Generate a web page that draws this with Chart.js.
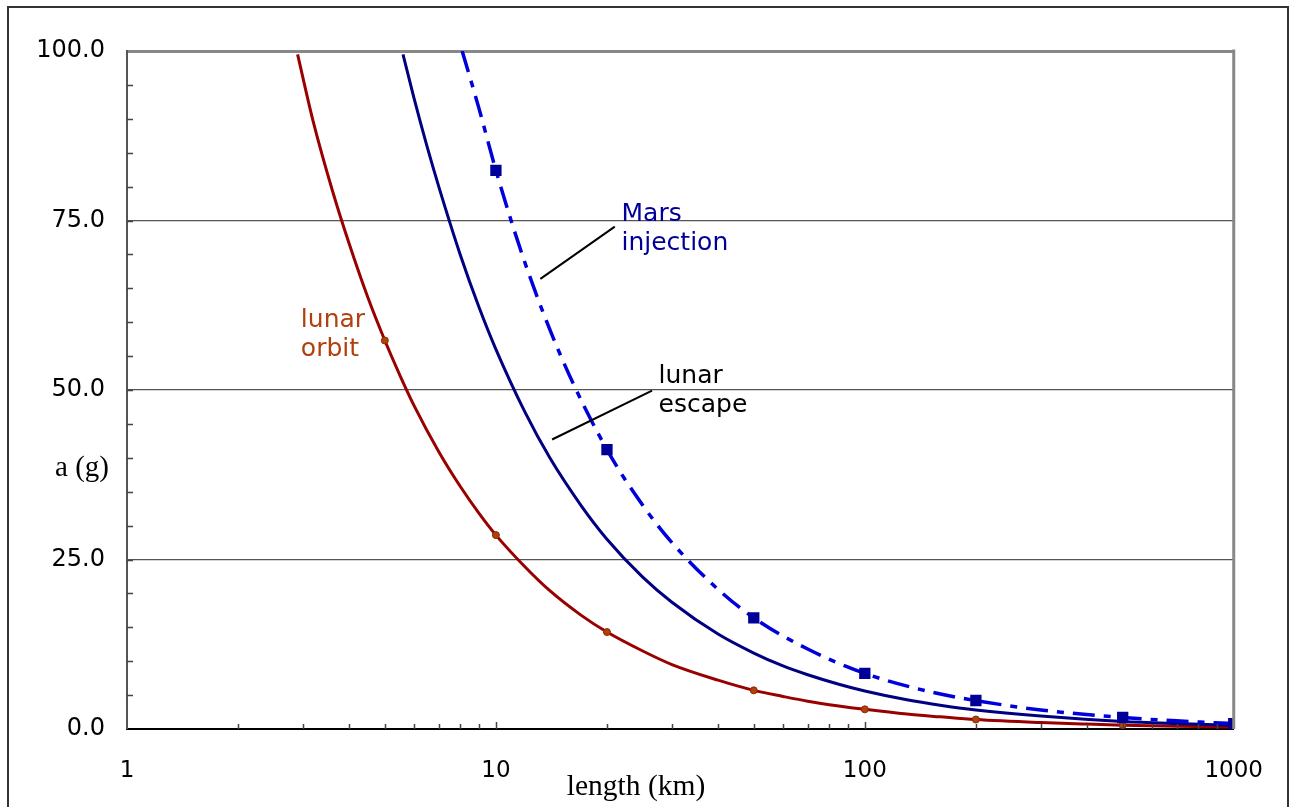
<!DOCTYPE html>
<html>
<head>
<meta charset="utf-8">
<title>a (g) vs length (km)</title>
<script src="https://cdn.jsdelivr.net/npm/chart.js@4.4.1/dist/chart.umd.min.js"></script>
<style>
  html, body { margin: 0; padding: 0; background: #fff; }
  canvas { display: block; }
</style>
</head>
<body>
<canvas id="plot" width="1291" height="807"></canvas>
<script>
// valores
let orbitLen = [2.9, 3.2, 3.6, 4, 4.5, 5, 5.5, 6, 7, 8, 9, 10, 12, 14, 17, 20, 25, 30, 40, 50, 60, 70, 85, 100, 130, 160, 200, 300, 400, 500, 700, 1000]
let orbitAcc = [99.5, 89.5, 79.5, 71.6, 63.6, 57.3, 52.1, 47.7, 40.9, 35.8, 31.8, 28.6, 23.9, 20.4, 16.8, 14.3, 11.5, 9.5, 7.2, 5.7, 4.8, 4.1, 3.4, 2.9, 2.2, 1.8, 1.4, 0.95, 0.72, 0.57, 0.41, 0.29]

let escapeLen = [5.6, 6, 6.5, 7, 8, 9, 10, 12, 14, 17, 20, 25, 30, 40, 50, 60, 70, 85, 100, 130, 160, 200, 300, 500, 700, 1000]
let escapeAcc = [99.5, 93, 86, 80, 70, 62.2, 56, 46.7, 40, 33, 28, 22.4, 18.7, 14, 11.2, 9.3, 8, 6.6, 5.6, 4.3, 3.5, 2.8, 1.9, 1.1, 0.8, 0.56]

let marsLen = [8.1, 9, 10, 12, 15, 20, 25, 30, 40, 50, 70, 100, 150, 200, 300, 500, 700, 1000]
let marsAcc = [100, 91.5, 82.4, 68.7, 55, 41.2, 33, 27.5, 20.6, 16.4, 11.8, 8.2, 5.5, 4.2, 2.8, 1.7, 1.2, 0.8]

// puntos marcados
let orbitMarkLen = [5, 10, 20, 50, 100, 200, 500, 1000]
let orbitMarkAcc = [57.3, 28.6, 14.3, 5.7, 2.9, 1.4, 0.57, 0.29]
let marsMarkLen = [10, 20, 50, 100, 200, 500, 1000]
let marsMarkAcc = [82.4, 41.2, 16.4, 8.2, 4.2, 1.7, 0.8]

// etiquetas de los ejes
let xTickLabels = [1, 10, 100, 1000]
let yTickLabels = [0, 25, 50, 75, 100]

// rotulos sobre la grafica (coordenadas en unidades de datos)
let notes = [
  {lines: ['Mars', 'injection'], x: 21.9, y: 75.0, color: '#000099'},
  {lines: ['lunar', 'escape'], x: 27.6, y: 51.0, color: '#000000'},
  {lines: ['lunar', 'orbit'], x: 2.96, y: 59.3, color: '#b0400d'}
]
let leaders = [
  {x1: 13.2, y1: 66.4, x2: 21.0, y2: 74.1},
  {x1: 14.2, y1: 42.7, x2: 26.5, y2: 49.9}
]

let toPoints = (xs, ys) => xs.map((x, i) => ({x: x, y: ys[i]}))

let extras = {
  id: 'extras',
  afterDraw: (chart) => {
    let ctx = chart.ctx
    let area = chart.chartArea
    let xs = chart.scales.x
    let ys = chart.scales.y
    ctx.save()

    // marco exterior
    ctx.strokeStyle = '#333'
    ctx.lineWidth = 2
    ctx.strokeRect(8, 7, 1280, 830)

    // borde derecho del area
    ctx.strokeStyle = '#888'
    ctx.lineWidth = 3
    ctx.beginPath()
    ctx.moveTo(area.right, area.top - 1.5)
    ctx.lineTo(area.right, area.bottom)
    ctx.stroke()

    // marcas menores hacia adentro
    ctx.strokeStyle = '#444'
    ctx.lineWidth = 1.5
    ctx.beginPath()
    for (let v = 5; v < 100; v += 5) {
      let py = Math.round(ys.getPixelForValue(v)) + 0.5
      ctx.moveTo(area.left, py)
      ctx.lineTo(area.left + 6, py)
    }
    for (let d = 1; d < 1000; d *= 10) {
      for (let m = 2; m <= 10; m++) {
        let px = Math.round(xs.getPixelForValue(d * m)) + 0.5
        if (d * m >= 1000) continue
        ctx.moveTo(px, area.bottom)
        ctx.lineTo(px, area.bottom - (m === 10 ? 7 : 5))
      }
    }
    ctx.stroke()

    // lineas guia
    ctx.strokeStyle = '#000'
    ctx.lineWidth = 2
    leaders.forEach(l => {
      ctx.beginPath()
      ctx.moveTo(xs.getPixelForValue(l.x1), ys.getPixelForValue(l.y1))
      ctx.lineTo(xs.getPixelForValue(l.x2), ys.getPixelForValue(l.y2))
      ctx.stroke()
    })

    // rotulos
    ctx.font = '25px "DejaVu Sans"'
    ctx.textAlign = 'left'
    ctx.textBaseline = 'alphabetic'
    notes.forEach(n => {
      ctx.fillStyle = n.color
      let px = xs.getPixelForValue(n.x)
      let py = ys.getPixelForValue(n.y)
      n.lines.forEach((t, i) => ctx.fillText(t, px, py + i * 29))
    })

    // titulos de ejes
    ctx.fillStyle = '#000'
    ctx.font = '29.5px "Liberation Serif"'
    ctx.textAlign = 'center'
    ctx.fillText('length (km)', 636, 795)
    ctx.font = '29px "Liberation Serif"'
    ctx.textBaseline = 'middle'
    ctx.fillText('a (g)', 82, ys.getPixelForValue(38.5))

    ctx.restore()
  }
}

let config = {
  type: 'line',
  data: {
    datasets: [
      {
        label: 'Mars injection points',
        data: toPoints(marsMarkLen, marsMarkAcc),
        showLine: false,
        pointStyle: 'rect',
        pointRadius: 8,
        backgroundColor: '#000099',
        borderColor: '#000099',
        borderWidth: 0
      },
      {
        label: 'lunar orbit points',
        data: toPoints(orbitMarkLen, orbitMarkAcc),
        showLine: false,
        pointRadius: 3.5,
        backgroundColor: '#b0400d',
        borderColor: '#8a2a05',
        borderWidth: 1
      },
      {
        label: 'Mars injection',
        data: toPoints(marsLen, marsAcc),
        borderColor: '#0000dd',
        borderWidth: 3.5,
        borderDash: [22, 9, 7, 9],
        pointRadius: 0,
        cubicInterpolationMode: 'monotone'
      },
      {
        label: 'lunar escape',
        data: toPoints(escapeLen, escapeAcc),
        borderColor: '#000080',
        borderWidth: 3,
        pointRadius: 0,
        cubicInterpolationMode: 'monotone'
      },
      {
        label: 'lunar orbit',
        data: toPoints(orbitLen, orbitAcc),
        borderColor: '#990000',
        borderWidth: 3,
        pointRadius: 0,
        cubicInterpolationMode: 'monotone'
      }
    ]
  },
  options: {
    responsive: false,
    animation: false,
    layout: {padding: {left: 0, top: 51, right: 52, bottom: 0}},
    plugins: {legend: {display: false}, tooltip: {enabled: false}},
    scales: {
      x: {
        type: 'logarithmic',
        min: 1,
        max: 1000,
        afterFit: (scale) => { scale.height = 78 },
        border: {display: true, color: '#000', width: 2},
        grid: {display: false, drawTicks: false},
        ticks: {
          autoSkip: false,
          maxRotation: 0,
          padding: 28,
          color: '#000',
          font: {family: 'DejaVu Sans', size: 23},
          callback: (v) => xTickLabels.includes(v) ? String(v) : ''
        }
      },
      y: {
        min: 0,
        max: 100,
        afterFit: (scale) => { scale.width = 127 },
        afterBuildTicks: (scale) => { scale.ticks = yTickLabels.map(v => ({value: v})) },
        border: {display: true, color: '#555', width: 2},
        grid: {
          drawTicks: false,
          color: (c) => c.tick && c.tick.value === 100 ? '#888' : (c.tick && c.tick.value === 0 ? 'rgba(0,0,0,0)' : '#555'),
          lineWidth: (c) => c.tick && c.tick.value === 100 ? 3 : 1.2
        },
        ticks: {
          padding: 22,
          color: '#000',
          font: {family: 'DejaVu Sans', size: 24},
          callback: (v) => v.toFixed(1)
        }
      }
    }
  },
  plugins: [extras]
}

let chart1 = new Chart(document.getElementById('plot'), config)
</script>
</body>
</html>
